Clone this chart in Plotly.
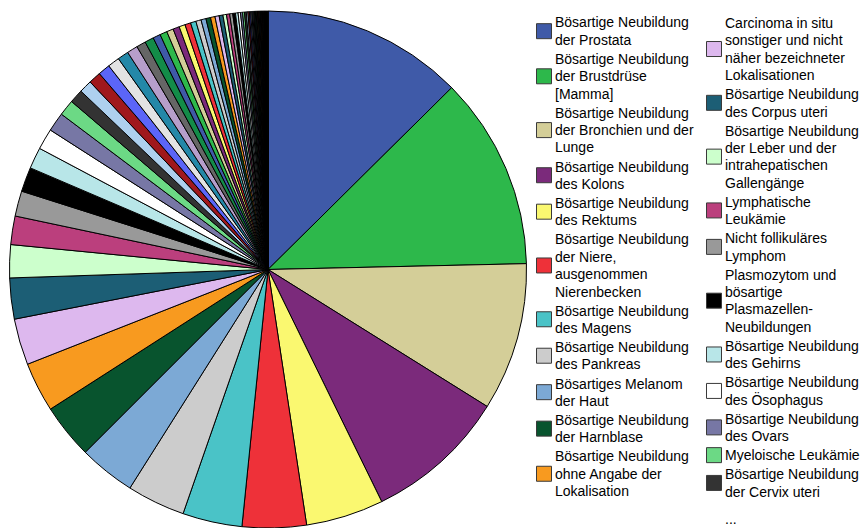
import plotly.graph_objects as go

W, H = 864, 528

# Diagnoses shown in the legend (line breaks as printed in the legend)
legend_left = [
    "Bösartige Neubildung\nder Prostata",
    "Bösartige Neubildung\nder Brustdrüse\n[Mamma]",
    "Bösartige Neubildung\nder Bronchien und der\nLunge",
    "Bösartige Neubildung\ndes Kolons",
    "Bösartige Neubildung\ndes Rektums",
    "Bösartige Neubildung\nder Niere,\nausgenommen\nNierenbecken",
    "Bösartige Neubildung\ndes Magens",
    "Bösartige Neubildung\ndes Pankreas",
    "Bösartiges Melanom\nder Haut",
    "Bösartige Neubildung\nder Harnblase",
    "Bösartige Neubildung\nohne Angabe der\nLokalisation",
]
legend_right = [
    "Carcinoma in situ\nsonstiger und nicht\nnäher bezeichneter\nLokalisationen",
    "Bösartige Neubildung\ndes Corpus uteri",
    "Bösartige Neubildung\nder Leber und der\nintrahepatischen\nGallengänge",
    "Lymphatische\nLeukämie",
    "Nicht follikuläres\nLymphom",
    "Plasmozytom und\nbösartige\nPlasmazellen-\nNeubildungen",
    "Bösartige Neubildung\ndes Gehirns",
    "Bösartige Neubildung\ndes Ösophagus",
    "Bösartige Neubildung\ndes Ovars",
    "Myeloische Leukämie",
    "Bösartige Neubildung\nder Cervix uteri",
]

# Share of all cases in percent, sorted descending (100 diagnoses)
shares = [
    12.58, 12.06, 9.25, 8.86, 4.86, 4.00, 3.72, 3.64, 3.53, 3.42, 3.11,
    2.89, 2.56, 2.06, 1.78, 1.58, 1.53, 1.33, 1.31, 1.19, 1.00, 0.86,
    0.80, 0.77, 0.75, 0.74, 0.69, 0.67, 0.58, 0.56, 0.47, 0.45,
    0.42, 0.40, 0.38, 0.36, 0.34, 0.33, 0.31, 0.29, 0.28, 0.26,
    0.24, 0.22, 0.20, 0.19, 0.17, 0.16, 0.15, 0.13, 0.12, 0.11, 0.10, 0.09, 0.08, 0.07,
    0.06, 0.06, 0.05, 0.05, 0.05, 0.04, 0.04, 0.04, 0.04,
    0.03, 0.03, 0.03, 0.03, 0.03, 0.03,
    0.02, 0.02, 0.02, 0.02, 0.02, 0.02, 0.02, 0.02, 0.02, 0.02,
    0.01, 0.01, 0.01, 0.01, 0.01, 0.01, 0.01, 0.01, 0.01, 0.01,
    0.01, 0.01, 0.01, 0.01, 0.01, 0.01, 0.01, 0.01, 0.01,
]

# Repeating colour cycle of the slices
palette = [
    "#3F5AA8", "#2DB84B", "#D4CE98", "#7B2A7B", "#FAF870", "#EE3139",
    "#4AC3C7", "#CCCCCC", "#7CA9D5", "#08542E", "#F89A1F", "#DDB8EE",
    "#1C5E75", "#CCFFCC", "#BB3F7D", "#999999", "#000000", "#B8E6E8",
    "#FFFFFF", "#7777A5", "#6CD985", "#333333", "#AED0EE", "#A0181C",
    "#5B65F8", "#E3E3E3", "#2488A8", "#B69ECB", "#666666", "#138C48",
]


def flat(label):
    out = ""
    for part in label.split("\n"):
        if out and not out.endswith("-"):
            out += " "
        out += part
    return out


named = [flat(t) for t in legend_left + legend_right]
labels = named + [f"Sonstige Neubildung {i}" for i in range(len(named) + 1, len(shares) + 1)]
colors = [palette[i % len(palette)] for i in range(len(shares))]

# Pie geometry in pixels
cx, r = 268, 259
top = 11

fig = go.Figure(go.Pie(
    labels=labels,
    values=shares,
    sort=False,
    direction="clockwise",
    rotation=0,
    textinfo="none",
    hoverinfo="label+percent",
    showlegend=False,
    marker=dict(colors=colors, line=dict(color="#000000", width=1)),
    domain=dict(x=[(cx - r) / W, (cx + r) / W], y=[0, 1 - top / H]),
))


def px(x):
    return x / W


def py(y):
    return 1 - y / H


LINE = 17.35
GAP = 1.75
FONT = dict(family="Liberation Sans, Arial, sans-serif", size=14, color="#000000")

shapes = []
annotations = []


def legend_column(entries, colors_col, box_x, text_x, y0):
    y = y0
    for text, col in zip(entries, colors_col):
        lines = text.split("\n")
        n = len(lines)
        for k, line in enumerate(lines):
            annotations.append(dict(
                x=px(text_x), y=py(y + k * LINE), xref="paper", yref="paper",
                text=line, showarrow=False, xanchor="left", yanchor="middle",
                font=FONT, borderpad=0,
            ))
        cy = y + (n - 1) * LINE / 2
        shapes.append(dict(
            type="rect", xref="paper", yref="paper",
            x0=px(box_x), x1=px(box_x + 15), y0=py(cy - 7.5), y1=py(cy + 7.5),
            fillcolor=col, line=dict(color="#3a3a3a", width=1),
        ))
        y += n * LINE + GAP
    return y


legend_column(legend_left, colors[:11], 536.5, 553.5, 22.5)
y_end = legend_column(legend_right, colors[11:22], 706.5, 723.5, 23)

annotations.append(dict(
    x=px(723.5), y=py(y_end + 8), xref="paper", yref="paper", text="...",
    showarrow=False, xanchor="left", yanchor="middle", font=FONT, borderpad=0,
))

fig.update_layout(
    width=W, height=H,
    margin=dict(l=0, r=0, t=0, b=0),
    paper_bgcolor="#FFFFFF",
    plot_bgcolor="#FFFFFF",
    shapes=shapes,
    annotations=annotations,
)

fig.write_html("out.html")
